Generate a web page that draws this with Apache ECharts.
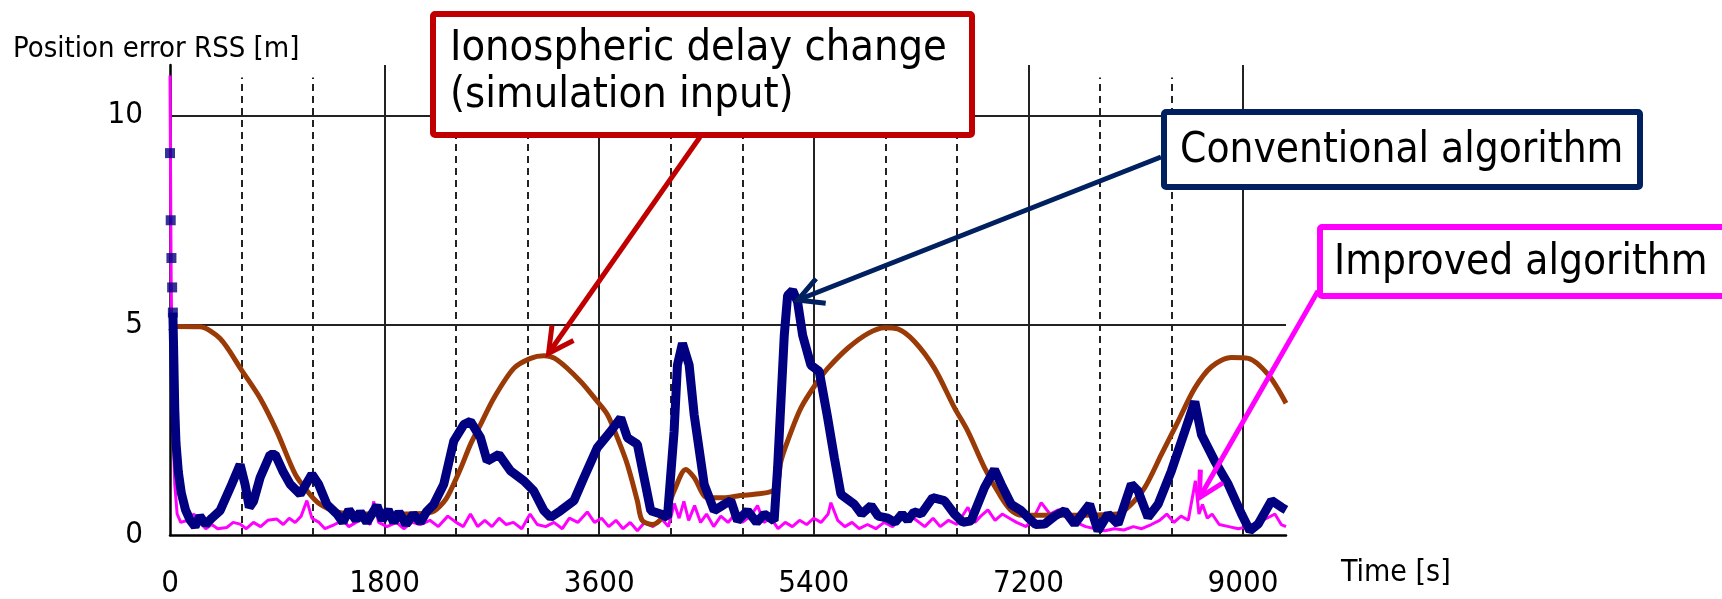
<!DOCTYPE html>
<html>
<head>
<meta charset="utf-8">
<script src="https://cdn.jsdelivr.net/npm/echarts@6.0.0/dist/echarts.min.js"></script>
<style>
html, body { margin: 0; padding: 0; background: #fff; }
#chart { width: 1722px; height: 599px; }
</style>
</head>
<body>
<div id="chart"></div>
<script>
//*************************************************************************************************data
// axis ticks
var x_ticks = [0, 1800, 3600, 5400, 7200, 9000];
var x_dashed = [600, 1200, 2400, 3000, 4200, 4800, 6000, 6600, 7800, 8400];
var y_ticks = [0, 5, 10];
var dashed_top = 10.9; // dashed grid lines stop a little below the solid ones

// ionospheric delay change (simulation input), [time s, m]
var iono_delay = [
    [0, 4.85], [60, 4.97], [250, 4.96], [420, 4.68], [600, 3.93], [756, 3.26], [896, 2.47],
    [1050, 1.45], [1150, 1.05], [1250, 0.75], [1400, 0.55], [1600, 0.5], [2000, 0.5], [2200, 0.55],
    [2300, 0.8], [2352, 1.05], [2440, 1.6], [2520, 2.16], [2604, 2.63], [2716, 3.26], [2883, 3.97],
    [3024, 4.21], [3136, 4.27], [3248, 4.17], [3444, 3.66], [3584, 3.18], [3668, 2.87], [3752, 2.32],
    [3836, 1.68], [3920, 0.81], [3960, 0.35], [4050, 0.25], [4150, 0.5], [4228, 1.05], [4326, 1.56],
    [4396, 1.37], [4508, 0.89], [4648, 0.89], [4760, 0.93], [4900, 0.97], [5054, 1.05], [5100, 1.3],
    [5124, 1.76], [5180, 2.24], [5292, 3.03], [5432, 3.66], [5516, 3.97], [5684, 4.45], [5852, 4.8],
    [5992, 4.94], [6104, 4.91], [6244, 4.61], [6412, 3.97], [6580, 3.03], [6692, 2.47], [6832, 1.6],
    [6950, 1.0], [7050, 0.6], [7150, 0.47], [7500, 0.47], [7950, 0.5], [8050, 0.7], [8175, 1.13],
    [8315, 1.92], [8455, 2.71], [8595, 3.5], [8735, 4.01], [8903, 4.23], [9043, 4.21], [9211, 3.82],
    [9360, 3.14]
];

// conventional algorithm, [time s, m]
var conventional = [
    [0, 9.1], [6, 7.5], [12, 6.6], [18, 5.9], [24, 5.3], [30, 4.5], [40, 3.0], [50, 2.2], [70, 1.5],
    [95, 1.0], [130, 0.6], [170, 0.35], [210, 0.2], [250, 0.45], [300, 0.25], [350, 0.4], [420, 0.58],
    [518, 1.21], [588, 1.68], [630, 1.2], [665, 0.66], [700, 0.8], [756, 1.37], [840, 1.92], [882, 1.92],
    [950, 1.5], [1008, 1.21], [1092, 0.97], [1190, 1.45], [1246, 1.21], [1316, 0.73], [1400, 0.5],
    [1450, 0.3], [1500, 0.6], [1560, 0.35], [1596, 0.55], [1650, 0.3], [1736, 0.7], [1780, 0.35],
    [1830, 0.6], [1876, 0.3], [1920, 0.55], [1980, 0.25], [2040, 0.5], [2100, 0.3], [2150, 0.55],
    [2212, 0.73], [2296, 1.21], [2380, 2.24], [2464, 2.63], [2520, 2.71], [2604, 2.32], [2660, 1.76],
    [2758, 1.92], [2856, 1.53], [2968, 1.29], [3051, 1.05], [3136, 0.58], [3192, 0.42], [3276, 0.58],
    [3388, 0.82], [3472, 1.37], [3584, 2.08], [3696, 2.47], [3780, 2.79], [3836, 2.32], [3920, 2.16],
    [3976, 1.37], [4032, 0.58], [4116, 0.5], [4172, 0.42], [4228, 2.47], [4256, 4.05], [4298, 4.57],
    [4354, 4.05], [4396, 2.87], [4480, 1.21], [4564, 0.58], [4648, 0.73], [4704, 0.82], [4760, 0.34],
    [4844, 0.58], [4920, 0.3], [4984, 0.5], [5067, 0.34], [5096, 1.6], [5124, 3.18], [5152, 4.76],
    [5180, 5.71], [5222, 5.83], [5264, 5.55], [5306, 4.76], [5375, 4.05], [5445, 3.9], [5516, 2.79],
    [5572, 1.84], [5627, 0.97], [5740, 0.73], [5800, 0.5], [5880, 0.7], [5940, 0.45], [6019, 0.4],
    [6080, 0.3], [6140, 0.5], [6187, 0.35], [6240, 0.55], [6300, 0.5], [6397, 0.89], [6495, 0.82],
    [6579, 0.5], [6650, 0.3], [6719, 0.34], [6831, 1.13], [6915, 1.56], [6971, 1.21], [7055, 0.73],
    [7139, 0.58], [7195, 0.42], [7260, 0.25], [7335, 0.26], [7420, 0.45], [7503, 0.58], [7587, 0.26],
    [7650, 0.5], [7713, 0.73], [7783, 0.1], [7867, 0.5], [7951, 0.26], [8063, 1.21], [8119, 1.05],
    [8203, 0.42], [8287, 0.73], [8399, 1.53], [8511, 2.47], [8595, 3.18], [8651, 2.39], [8763, 1.76],
    [8875, 1.21], [8987, 0.5], [9057, 0.1], [9127, 0.26], [9239, 0.82], [9323, 0.66], [9360, 0.6]
];
var conventional_sparse_num = 5; // first points drawn as single squares

// improved algorithm, [time s, m]
var improved = [
    [0, 10.95], [10, 6.0], [25, 2.5], [40, 1.2], [60, 0.5], [90, 0.3], [150, 0.35], [200, 0.5], [250, 0.3],
    [300, 0.15], [350, 0.25], [400, 0.15], [476, 0.18], [530, 0.3], [588, 0.26], [640, 0.15], [700, 0.3],
    [760, 0.2], [820, 0.35], [896, 0.38], [950, 0.25], [1000, 0.4], [1050, 0.3], [1100, 0.45], [1148, 0.82],
    [1190, 0.4], [1250, 0.3], [1300, 0.15], [1380, 0.25], [1450, 0.35], [1500, 0.2], [1560, 0.3], [1620, 0.4],
    [1680, 0.25], [1708, 0.8], [1750, 0.3], [1820, 0.2], [1900, 0.3], [1960, 0.15], [2030, 0.3], [2100, 0.25],
    [2180, 0.35], [2250, 0.2], [2330, 0.45], [2400, 0.3], [2460, 0.2], [2520, 0.5], [2580, 0.2], [2640, 0.35],
    [2700, 0.2], [2760, 0.4], [2820, 0.25], [2880, 0.3], [2950, 0.15], [3020, 0.5], [3080, 0.25], [3150, 0.2],
    [3220, 0.3], [3290, 0.15], [3350, 0.4], [3420, 0.3], [3500, 0.55], [3560, 0.3], [3620, 0.4], [3680, 0.2],
    [3740, 0.35], [3800, 0.15], [3860, 0.3], [3920, 0.1], [3980, 0.3], [4050, 0.2], [4120, 0.4], [4180, 0.2],
    [4230, 0.75], [4270, 0.4], [4310, 0.8], [4350, 0.35], [4400, 0.7], [4450, 0.3], [4500, 0.5], [4560, 0.2],
    [4620, 0.45], [4680, 0.3], [4740, 0.5], [4800, 0.3], [4870, 0.45], [4928, 0.7], [4980, 0.3], [5040, 0.4],
    [5100, 0.15], [5160, 0.3], [5220, 0.2], [5280, 0.35], [5340, 0.25], [5400, 0.4], [5460, 0.3], [5520, 0.5],
    [5543, 0.77], [5600, 0.35], [5660, 0.2], [5720, 0.3], [5780, 0.15], [5850, 0.25], [5920, 0.15], [5990, 0.3],
    [6060, 0.2], [6130, 0.4], [6200, 0.5], [6260, 0.35], [6330, 0.2], [6400, 0.4], [6460, 0.2], [6530, 0.35],
    [6600, 0.25], [6692, 0.66], [6750, 0.3], [6800, 0.45], [6860, 0.6], [6920, 0.35], [6980, 0.5], [7040, 0.4],
    [7100, 0.3], [7180, 0.2], [7250, 0.45], [7307, 0.77], [7380, 0.5], [7450, 0.6], [7531, 0.5], [7600, 0.3],
    [7680, 0.2], [7760, 0.15], [7840, 0.1], [7920, 0.15], [8000, 0.12], [8080, 0.2], [8150, 0.15], [8230, 0.25],
    [8300, 0.35], [8360, 0.5], [8420, 0.3], [8480, 0.45], [8540, 0.35], [8600, 1.29], [8630, 0.5], [8660, 0.73],
    [8700, 0.4], [8740, 0.5], [8800, 0.25], [8880, 0.2], [8960, 0.15], [9040, 0.2], [9120, 0.3], [9200, 0.4],
    [9267, 0.5], [9320, 0.25], [9360, 0.2]
];

// callouts: text and the data point each arrow points at
var note_texts = ['Ionospheric delay change\n(simulation input)', 'Conventional algorithm', 'Improved algorithm'];
var note_tips = [[3175, 4.33], [5266, 5.6], [8634, 0.89]];

//*************************************************************************************************chart
var font_num = '"Liberation Sans Narrow", "DejaVu Sans Condensed", sans-serif';
var font_txt = '"DejaVu Sans Condensed", "DejaVu Sans", sans-serif';
var grid_color = '#222';

var grid_lines = [];
for (let i = 1; i < x_ticks.length; i++) {
    grid_lines.push({xAxis: x_ticks[i]});
}
for (let i = 0; i < x_dashed.length; i++) {
    grid_lines.push([
        {coord: [x_dashed[i], 0], lineStyle: {type: [7, 5]}},
        {coord: [x_dashed[i], dashed_top]}
    ]);
}
for (let i = 1; i < y_ticks.length; i++) {
    grid_lines.push({yAxis: y_ticks[i]});
}

var chart = echarts.init(document.getElementById('chart'));
var option = {
    animation: false,
    title: [{
        text: 'Position error RSS [m]',
        left: 13,
        top: 35,
        padding: 0,
        textStyle: {fontFamily: font_txt, fontSize: 29, fontWeight: 'normal', color: '#000'},
    }, {
        text: 'Time [s]',
        left: 1341,
        top: 558,
        padding: 0,
        textStyle: {fontFamily: font_txt, fontSize: 30, fontWeight: 'normal', color: '#000'},
    }],
    grid: {left: 170, right: 436, top: 65, bottom: 61},
    xAxis: {
        type: 'value',
        min: 0,
        max: 9360,
        interval: 1800,
        axisLine: {lineStyle: {color: '#000', width: 2.5}},
        axisTick: {show: false},
        splitLine: {show: false},
        axisLabel: {
            margin: 33,
            fontFamily: font_num,
            fontSize: 31,
            color: '#000',
            formatter: function (v) { return x_ticks.indexOf(v) >= 0 ? String(v) : ''; },
        },
    },
    yAxis: {
        type: 'value',
        min: 0,
        max: 11.2,
        interval: 5,
        axisLine: {show: true, lineStyle: {color: '#000', width: 2.5}},
        axisTick: {show: false},
        splitLine: {show: false},
        axisLabel: {
            margin: 27,
            fontFamily: font_num,
            fontSize: 31,
            color: '#000',
            formatter: function (v) { return y_ticks.indexOf(v) >= 0 ? String(v) : ''; },
        },
    },
    series: [{
        name: 'grid',
        type: 'line',
        data: [],
        silent: true,
        markLine: {
            silent: true,
            z: 1,
            symbol: ['none', 'none'],
            label: {show: false},
            lineStyle: {color: grid_color, width: 2, type: 'solid'},
            emphasis: {disabled: true},
            data: grid_lines,
        },
    }, {
        name: 'Improved algorithm',
        type: 'line',
        z: 2,
        data: improved,
        showSymbol: false,
        lineStyle: {color: '#ff00ff', width: 3},
        itemStyle: {color: '#ff00ff'},
    }, {
        name: 'Ionospheric delay change',
        type: 'line',
        z: 3,
        data: iono_delay,
        smooth: 0.3,
        showSymbol: false,
        lineStyle: {color: '#9a3a06', width: 5},
        itemStyle: {color: '#9a3a06'},
    }, {
        name: 'Conventional algorithm',
        type: 'line',
        z: 4,
        data: conventional.slice(conventional_sparse_num - 1),
        showSymbol: false,
        lineStyle: {color: '#000080', width: 9, join: 'bevel'},
        itemStyle: {color: '#000080'},
    }, {
        name: 'Conventional algorithm start',
        type: 'scatter',
        z: 4,
        data: conventional.slice(0, conventional_sparse_num),
        symbol: 'rect',
        symbolSize: 10,
        itemStyle: {color: '#000080'},
    }]
};
chart.setOption(option);

//*************************************************************************************************callouts
function arrow_parts(tail, tip, color) {
    let dx = tail[0] - tip[0];
    let dy = tail[1] - tip[1];
    let len = Math.sqrt(dx * dx + dy * dy);
    let ux = dx / len, uy = dy / len;
    let a = 28 * Math.PI / 180, L = 28;
    let w1 = [tip[0] + L * (ux * Math.cos(a) - uy * Math.sin(a)), tip[1] + L * (ux * Math.sin(a) + uy * Math.cos(a))];
    let w2 = [tip[0] + L * (ux * Math.cos(a) + uy * Math.sin(a)), tip[1] + L * (-ux * Math.sin(a) + uy * Math.cos(a))];
    return [{
        type: 'polyline', z: 100, silent: true,
        shape: {points: [tail, tip]},
        style: {stroke: color, lineWidth: 5, fill: null},
    }, {
        type: 'polyline', z: 100, silent: true,
        shape: {points: [w1, tip, w2]},
        style: {stroke: color, lineWidth: 5, fill: null, lineJoin: 'miter'},
    }];
}

function box_parts(rect, color, text, text_x, text_y, size) {
    return [{
        type: 'rect', z: 101, silent: true,
        shape: {x: rect[0], y: rect[1], width: rect[2], height: rect[3], r: 2},
        style: {fill: '#fff', stroke: color, lineWidth: 6},
    }, {
        type: 'text', z: 102, silent: true,
        x: text_x, y: text_y,
        style: {
            text: text, fill: '#000',
            fontFamily: font_txt, fontSize: size, lineHeight: 47,
            align: 'left', verticalAlign: 'middle',
        },
    }];
}

var colors = ['#c00000', '#002060', '#ff00ff'];
var tails = [[700, 137], [1161, 157], [1318, 291]];
var tips = note_tips.map(function (p) { return chart.convertToPixel({gridIndex: 0}, p); });

var graphics = [];
for (let i = 0; i < note_texts.length; i++) {
    graphics = graphics.concat(arrow_parts(tails[i], tips[i], colors[i]));
}
graphics = graphics.concat(box_parts([433, 14, 539, 121], colors[0], note_texts[0], 450, 72, 43));
graphics = graphics.concat(box_parts([1164, 112, 476, 75], colors[1], note_texts[1], 1180, 151, 42));
graphics = graphics.concat(box_parts([1320, 227, 420, 69], colors[2], note_texts[2], 1334, 263, 42));

chart.setOption({graphic: graphics});
</script>
</body>
</html>
